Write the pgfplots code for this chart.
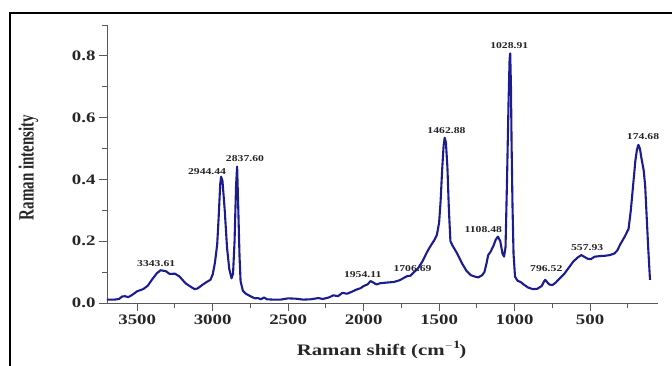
\documentclass[border=0pt]{standalone}
\usepackage{fontspec}
\setmainfont{Liberation Serif}[FakeStretch=1.3]
\newfontfamily\plainserif{Liberation Serif}
\usepackage{pgfplots}
\pgfplotsset{compat=1.18}
\definecolor{spec}{RGB}{28,28,145}
\begin{document}
\begin{tikzpicture}
\useasboundingbox (-107pt,-62pt) rectangle (565pt,303pt);
\draw[line width=1.6pt] (-97pt,-70pt) -- (-97pt,290pt) -- (580pt,290pt);
\begin{axis}[
  scale only axis, width=551pt, height=278pt,
  x dir=reverse, xmin=50, xmax=3700, ymin=0, ymax=0.9,
  axis x line*=bottom, axis y line*=left,
  xtick={500,1000,1500,2000,2500,3000,3500},
  xticklabels={500,1000,1500,2000,2500,3000,3500},
  minor xtick={250,750,1250,1750,2250,2750,3250},
  ytick={0,0.2,0.4,0.6,0.8},
  yticklabels={0.0,0.2,0.4,0.6,0.8},
  minor ytick={0.1,0.3,0.5,0.7,0.9},
  tick align=outside, major tick length=8pt, minor tick length=4.5pt,
  axis line style={draw=black!65, line width=0.9pt},
  every tick/.style={draw=black!65, line width=0.9pt},
  tick label style={font=\bfseries\fontsize{14.5pt}{14.5pt}\selectfont, text=black!85},
  /pgf/number format/assume math mode=true,
  clip=false,
]
\addplot[spec, line width=2.1pt, line join=round] coordinates {
(3700,0.011) (3650,0.011) (3620,0.013) (3600,0.021) (3580,0.022) (3560,0.019)
(3540,0.024) (3500,0.038) (3460,0.045) (3430,0.056) (3400,0.077) (3370,0.096)
(3345,0.106) (3310,0.103) (3285,0.094) (3250,0.095) (3220,0.086) (3180,0.064)
(3150,0.054) (3120,0.045) (3100,0.047) (3070,0.058) (3040,0.068) (3015,0.075)
(3000,0.092) (2985,0.130) (2970,0.190) (2960,0.280) (2950,0.385) (2944,0.409)
(2935,0.395) (2920,0.300) (2905,0.180) (2890,0.110) (2875,0.080) (2865,0.095)
(2855,0.200) (2845,0.380) (2838,0.442) (2830,0.300) (2822,0.150) (2815,0.070)
(2800,0.040) (2780,0.030) (2750,0.022) (2720,0.015) (2700,0.016) (2680,0.012)
(2660,0.018) (2640,0.012) (2600,0.011) (2550,0.011) (2500,0.015) (2450,0.014)
(2400,0.011) (2350,0.012) (2300,0.016) (2270,0.013) (2230,0.018) (2200,0.025)
(2170,0.022) (2140,0.033) (2110,0.030) (2080,0.036) (2050,0.043) (2020,0.048)
(2000,0.055) (1975,0.060) (1954,0.071) (1935,0.066) (1915,0.060) (1890,0.064)
(1850,0.066) (1800,0.068) (1760,0.074) (1720,0.085) (1706,0.088) (1690,0.088)
(1670,0.098) (1640,0.112) (1610,0.135) (1580,0.165) (1560,0.182) (1530,0.205)
(1515,0.220) (1500,0.260) (1490,0.330) (1480,0.430) (1470,0.510) (1463,0.535)
(1455,0.520) (1445,0.440) (1435,0.300) (1425,0.200) (1410,0.185) (1380,0.160)
(1350,0.130) (1320,0.105) (1290,0.090) (1260,0.085) (1240,0.083) (1215,0.090)
(1200,0.100) (1185,0.130) (1175,0.155) (1160,0.165) (1140,0.185) (1125,0.205)
(1110,0.215) (1095,0.200) (1080,0.160) (1070,0.150) (1060,0.180) (1050,0.400)
(1040,0.650) (1033,0.790) (1029,0.808) (1024,0.700) (1020,0.520) (1014,0.320)
(1007,0.160) (997,0.085) (980,0.072) (960,0.068) (940,0.060) (910,0.050)
(880,0.045) (850,0.046) (820,0.055) (805,0.070) (797,0.075) (785,0.068)
(770,0.060) (750,0.058) (730,0.065) (700,0.080) (670,0.095) (640,0.115)
(610,0.135) (580,0.148) (558,0.155) (540,0.150) (515,0.143) (495,0.142)
(470,0.150) (430,0.152) (400,0.153) (370,0.155) (340,0.160) (320,0.170)
(300,0.190) (270,0.215) (245,0.240) (230,0.300) (215,0.380) (200,0.460)
(190,0.495) (180,0.512) (170,0.500) (160,0.470) (145,0.430) (135,0.380)
(125,0.280) (115,0.180) (103,0.075)
};
\begin{scope}[every node/.style={font=\bfseries\fontsize{9pt}{9pt}\selectfont, text=black!85, inner sep=0pt}]
\node at (axis cs:3374,0.126) {3343.61};
\node at (axis cs:3037,0.424) {2944.44};
\node at (axis cs:2786,0.469) {2837.60};
\node at (axis cs:2006,0.093) {1954.11};
\node at (axis cs:1676,0.113) {1706.69};
\node at (axis cs:1451,0.557) {1462.88};
\node at (axis cs:1207,0.239) {1108.48};
\node at (axis cs:1035,0.832) {1028.91};
\node at (axis cs:790,0.113) {796.52};
\node at (axis cs:519,0.181) {557.93};
\node at (axis cs:149,0.538) {174.68};
\end{scope}
\end{axis}
\node[rotate=90, font=\plainserif\bfseries\fontsize{15pt}{15pt}\selectfont, text=black!85] at (-78.5pt,135.5pt) {\scalebox{1}[1.45]{Raman intensity}};
\node[font=\bfseries\fontsize{16pt}{16pt}\selectfont, text=black!85] at (274.5pt,-47pt) {Raman shift (cm$^{\mathbf{-1}}$)};
\end{tikzpicture}
\end{document}
